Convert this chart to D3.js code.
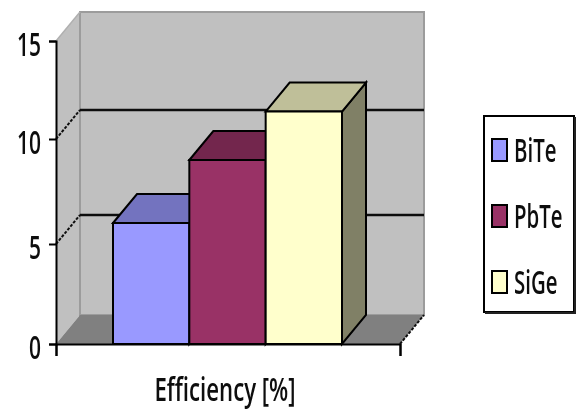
<!DOCTYPE html>
<html>
<head>
<meta charset="utf-8">
<script src="https://cdnjs.cloudflare.com/ajax/libs/d3/7.8.5/d3.min.js"></script>
<style>
  html, body { margin: 0; padding: 0; background: #fff; }
  svg { display: block; }
  text { font-family: "Open Sans", sans-serif; font-weight: 600; fill: #111; }
</style>
</head>
<body>
<svg width="576" height="410"></svg>
<script>
const category = "Efficiency [%]";
const series = ["BiTe", "PbTe", "SiGe"];
const values = [6, 9, 11.4];
const yTicks = [0, 5, 10, 15];
const gridTicks = [5, 10];
const frontColors = ["#9999ff", "#993366", "#ffffcc"];
const topColors = ["#7373bf", "#73264d", "#bfbf99"];
const sideColors = ["#66669a", "#591e3b", "#808066"];

const depthX = 24;
const depthY = -29;
const left = 56, right = 400;

const svg = d3.select("svg");

// the reference is a slightly blurred screenshot
svg.append("defs").append("filter").attr("id", "soft")
   .append("feGaussianBlur").attr("stdDeviation", 0.7);

const chart = svg.append("g").attr("filter", "url(#soft)");

// the picture is unevenly stretched, so the axis is read tick by tick
const y = d3.scaleLinear().domain(yTicks).range([344, 244, 139, 41]);
const x = d3.scaleBand().domain(series).range([113, 342]);
const xEnds = d3.scaleLinear().domain([0, 1]).range([left, right]);
const base = y(0), top15 = y(15);

const line = d3.line();
const poly = pts => line(pts) + "Z";
const back = ([a, b]) => [a + depthX, b + depthY];
const dotted = (g, a, b) => g.append("path").attr("d", line([a, b]))
  .attr("fill", "none").attr("stroke", "#111").attr("stroke-width", 2)
  .attr("stroke-dasharray", "3,1.5");

// walls
const bl = [left, base], br = [right, base], tl = [left, top15];
chart.append("path").attr("d", poly([bl, tl, back(tl), back(bl)]))
     .attr("fill", "#c0c0c0").attr("stroke", "none");
chart.append("path").attr("d", poly([back(bl), back(tl), back([right, top15]), back(br)]))
     .attr("fill", "#c0c0c0").attr("stroke", "#9c9c9c").attr("stroke-width", 2);
chart.append("path").attr("d", line([tl, back(tl)]))
     .attr("fill", "none").attr("stroke", "#b0b0b0").attr("stroke-width", 1.5);
chart.append("path").attr("d", poly([bl, back(bl), back(br), br]))
     .attr("fill", "#808080").attr("stroke", "none");
dotted(chart, br, back(br));

// gridlines
gridTicks.forEach(t => {
  const f = [left, y(t)];
  dotted(chart, f, back(f));
  chart.append("path").attr("d", line([back(f), back([right, y(t)])]))
       .attr("fill", "none").attr("stroke", "#111").attr("stroke-width", 2.4);
});

// bars
const bars = chart.selectAll("g.bar")
  .data(series)
  .enter()
  .append("g")
  .attr("class", "bar");

bars.each(function (d, i) {
  const g = d3.select(this);
  const x0 = x(d), x1 = x(d) + x.bandwidth(), yT = y(values[i]);
  g.append("path").attr("d", poly([[x1, base], [x1, yT], back([x1, yT]), back([x1, base])]))
   .attr("fill", sideColors[i]).attr("stroke", "#000").attr("stroke-width", 2);
  g.append("path").attr("d", poly([[x0, yT], back([x0, yT]), back([x1, yT]), [x1, yT]]))
   .attr("fill", topColors[i]).attr("stroke", "#000").attr("stroke-width", 2);
  g.append("path").attr("d", poly([[x0, base], [x0, yT], [x1, yT], [x1, base]]))
   .attr("fill", frontColors[i]).attr("stroke", "#000").attr("stroke-width", 2);
});

// axes
const yAxis = chart.append("g").attr("transform", `translate(${left},0)`)
  .call(d3.axisLeft(y).tickValues(yTicks).tickSize(7).tickFormat(""));
const xAxis = chart.append("g").attr("transform", `translate(0,${base})`)
  .call(d3.axisBottom(xEnds).tickValues([0, 1]).tickSize(12).tickFormat(""));
[yAxis, xAxis].forEach(a => {
  a.selectAll("path, line").attr("stroke", "#000").attr("stroke-width", 2);
});

// text is tall and narrow like the stretched original
const stretched = (sel, px, py, sx, sy) =>
  sel.attr("transform", `translate(${px},${py}) scale(${sx},${sy})`);

yTicks.forEach(t => {
  stretched(chart.append("text").attr("text-anchor", "end")
    .attr("font-size", 20).text(t), 41, y(t) + 15, 1.05, 1.65);
});

stretched(chart.append("text").attr("text-anchor", "middle")
  .attr("font-size", 20).text(category), 225, 401, 1.11, 1.65);

// legend, with the heavier right and bottom edge
chart.append("rect").attr("x", 484).attr("y", 116).attr("width", 90).attr("height", 196)
     .attr("fill", "#fff").attr("stroke", "#000").attr("stroke-width", 2);
chart.append("path").attr("d", line([[575, 117], [575, 313], [485, 313]]))
     .attr("fill", "none").attr("stroke", "#222").attr("stroke-width", 2);

const legendY = d3.scalePoint().domain(series).range([150, 282]);

const legend = chart.selectAll("g.legend")
  .data(series)
  .enter()
  .append("g")
  .attr("class", "legend")
  .attr("transform", d => `translate(0,${legendY(d)})`);

legend.append("rect").attr("x", 492).attr("y", -11).attr("width", 15).attr("height", 22)
      .attr("fill", (d, i) => frontColors[i]).attr("stroke", "#000").attr("stroke-width", 2);

legend.append("text").attr("font-size", 20)
      .attr("transform", "translate(514,12) scale(1.02,1.65)")
      .text(d => d);
</script>
</body>
</html>
